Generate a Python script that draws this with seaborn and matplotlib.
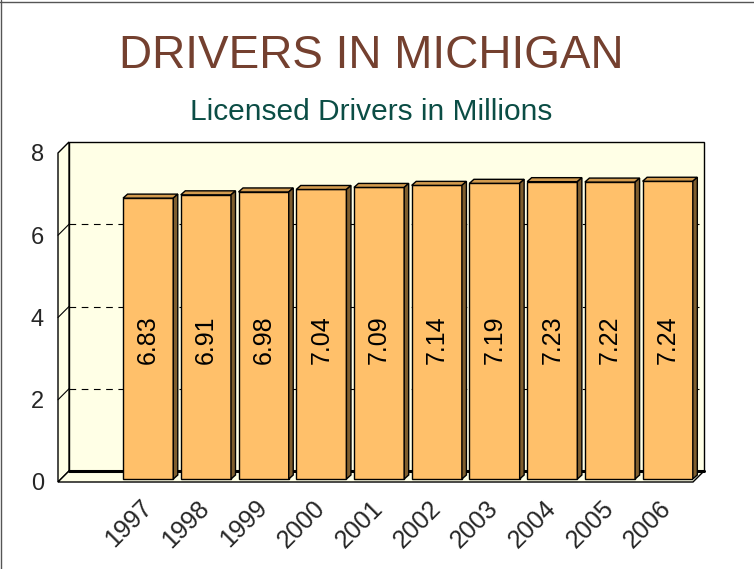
import numpy as np
import pandas as pd
import matplotlib
matplotlib.use('Agg')
import matplotlib.pyplot as plt
import seaborn as sns
from matplotlib.patches import Polygon, Rectangle
from matplotlib.lines import Line2D

years = ['1997', '1998', '1999', '2000', '2001', '2002', '2003', '2004', '2005', '2006']
drivers = [6.83, 6.91, 6.98, 7.04, 7.09, 7.14, 7.19, 7.23, 7.22, 7.24]
y_ticks = [0, 2, 4, 6, 8]
grid_vals = [2, 4, 6]

df = pd.DataFrame({'year': years, 'drivers': drivers})

sns.set_style('white')
plt.rcParams['font.family'] = ['Liberation Sans', 'DejaVu Sans']

wall_col = '#FFFFE6'
front_col = '#FFC06A'
top_col = '#D39B4E'
side_col = '#7F5E2E'

fig = plt.figure(figsize=(7.54, 5.69), dpi=100)
ax = fig.add_axes([58/754, 1 - 482/569, 635/754, 329/569])

sns.barplot(data=df, x='year', y='drivers', width=0.87, color=front_col,
            saturation=1, edgecolor='black', linewidth=1, ax=ax, zorder=5)

x0, x1 = -1.51, 9.49
ax.set_xlim(x0, x1)
ax.set_ylim(0, 8)

# pixel -> data unit conversion for the fake 3d depth
ux = ax.bbox.width / (x1 - x0)
uy = ax.bbox.height / 8
wx, wy = 11 / ux, 11 / uy      # depth of walls
bx, by = 3 / ux, 3 / uy        # bars sit a bit behind the front edge
dx, dy = 4.5 / ux, 4 / uy      # depth of the bars

kw = dict(clip_on=False, edgecolor='black', linewidth=1)

# walls and floor
ax.add_patch(Rectangle((x0 + wx, wy), x1 - x0, 8, facecolor=wall_col, zorder=0, **kw))
ax.add_patch(Polygon([(x0, 0), (x0 + wx, wy), (x0 + wx, 8 + wy), (x0, 8)],
                     facecolor=wall_col, zorder=0, **kw))
ax.add_patch(Polygon([(x0, 0), (x1, 0), (x1 + wx, wy), (x0 + wx, wy)],
                     facecolor=wall_col, zorder=1, **kw))
ax.plot([x0 + wx, x1 + wx], [wy, wy], color='black', lw=2.2, clip_on=False, zorder=2)

for g in grid_vals:
    ax.plot([x0 + wx, x1 + wx], [g + wy, g + wy], color='black', lw=0.8,
            ls=(0, (6, 5)), clip_on=False, zorder=2)
    ax.plot([x0, x0 + wx], [g, g + wy], color='black', lw=0.8, clip_on=False, zorder=2)

# 3d bars
for p in ax.patches:
    if p.get_zorder() != 5:
        continue
    p.set_x(p.get_x() + bx)
    p.set_y(by)
    x, w, top = p.get_x(), p.get_width(), by + p.get_height()
    ax.add_patch(Polygon([(x, top), (x + w, top), (x + w + dx, top + dy), (x + dx, top + dy)],
                         facecolor=top_col, zorder=5, **kw))
    ax.add_patch(Polygon([(x + w, by), (x + w + dx, by + dy), (x + w + dx, top + dy), (x + w, top)],
                         facecolor=side_col, zorder=5, **kw))

for i, v in enumerate(drivers):
    ax.text(i + bx, 3.45, f'{v:.2f}', rotation=90, ha='center', va='center',
            fontsize=18, color='black', zorder=6)

ax.set_yticks(y_ticks)
ax.set_yticklabels([str(t) for t in y_ticks], fontsize=17)
ax.set_xticks(np.arange(len(years)) + bx)
ax.set_xticklabels(years, fontsize=18, rotation=45, ha='right', va='center',
                   rotation_mode='anchor')
ax.tick_params(axis='y', length=0, pad=10)
ax.tick_params(axis='x', length=0, pad=16)
ax.set_xlabel('')
ax.set_ylabel('')
for s in ax.spines.values():
    s.set_visible(False)
ax.patch.set_visible(False)

fig.text(0.492, 1 - 68/569, 'DRIVERS IN MICHIGAN', fontsize=33, color='#74402F',
         ha='center', va='baseline')
fig.text(0.492, 1 - 120/569, 'Licensed Drivers in Millions', fontsize=21.5, color='#0B4D45',
         ha='center', va='baseline')

fig.add_artist(Line2D([0, 1], [1 - 2/569, 1 - 2/569], color='#555555', lw=1))
fig.add_artist(Line2D([1/754, 1/754], [0, 1], color='#555555', lw=1))

fig.savefig('out.png', dpi=100, facecolor='white')
